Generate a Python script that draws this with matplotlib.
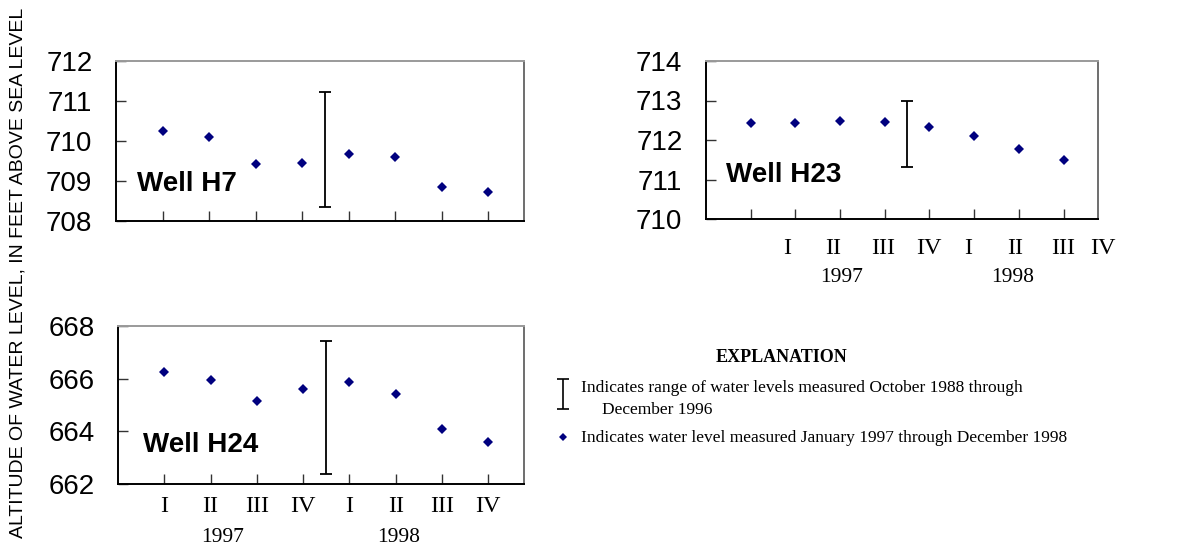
import matplotlib
matplotlib.use("Agg")
import matplotlib.pyplot as plt
from matplotlib.transforms import blended_transform_factory

# ---------------- data ----------------
quarters = [1, 2, 3, 4, 5, 6, 7, 8]
roman_labels = ["I", "II", "III", "IV", "I", "II", "III", "IV"]
year_labels = ["1997", "1998"]

h7_levels = [710.26, 710.10, 709.43, 709.45, 709.68, 709.61, 708.85, 708.73]
h7_range = [708.34, 711.22]

h23_levels = [712.42, 712.42, 712.47, 712.45, 712.32, 712.10, 711.76, 711.49]
h23_range = [711.32, 713.00]

h24_levels = [666.25, 665.95, 665.16, 665.59, 665.86, 665.41, 664.08, 663.59]
h24_range = [662.37, 667.44]

range_x = 4.5
# label positions as drawn (upper-right panel labels are shifted in the original)
h23_roman_x = [1.81, 2.84, 3.96, 4.99, 5.86, 6.91, 7.99, 8.88]
h23_year_x = [3.04, 6.87]
h24_roman_x = [1, 2, 3, 4, 5, 6, 7, 8]
h24_year_x = [2.26, 6.07]

W, H = 1184, 548
fig = plt.figure(figsize=(W / 100, H / 100), dpi=100)

SANS = "Liberation Sans"
SERIF = "Liberation Serif"
NAVY = "#00007f"


def px_axes(left, top, right, bottom):
    return fig.add_axes([left / W, 1 - bottom / H, (right - left) / W, (bottom - top) / H])


def style(ax, ylim, yticks, label, label_xy):
    ax.set_xlim(0, 8.77)
    ax.set_ylim(*ylim)
    ax.set_yticks(yticks)
    ax.set_yticklabels([str(t) for t in yticks], fontsize=20, family=SANS)
    ax.set_xticks(quarters)
    ax.set_xticklabels([])
    ax.tick_params(axis="y", direction="in", length=7, width=1.0, pad=17, color="#333333")
    ax.tick_params(axis="x", direction="in", length=7, width=1.0, color="#333333")
    for s in ["left", "bottom"]:
        ax.spines[s].set_color("black")
        ax.spines[s].set_linewidth(1.4)
    ax.spines["top"].set_color("#9a9a9a")
    ax.spines["top"].set_linewidth(1.4)
    ax.spines["right"].set_color("#555555")
    ax.spines["right"].set_linewidth(1.2)
    ax.text(label_xy[0], label_xy[1], label, fontsize=20, fontweight="bold",
            family=SANS, ha="left", va="center")


def draw(ax, levels, rng):
    ax.plot(quarters, levels, linestyle="none", marker="D", markersize=5.5,
            color=NAVY, markeredgewidth=0)
    mid = (rng[0] + rng[1]) / 2
    ax.errorbar([range_x], [mid], yerr=[[mid - rng[0]], [rng[1] - mid]],
                fmt="none", ecolor="black", elinewidth=1.3, capsize=4, capthick=1.3)


def xlabels(ax, roman_x, year_x, dy_roman, dy_year):
    tr = blended_transform_factory(ax.transData, ax.transAxes)
    h = ax.get_position().height * H
    for x, lab in zip(roman_x, roman_labels):
        ax.text(x, -dy_roman / h, lab, transform=tr, ha="center", va="center",
                fontsize=17.5, family=SERIF)
    for x, lab in zip(year_x, year_labels):
        ax.text(x, -dy_year / h, lab, transform=tr, ha="center", va="center",
                fontsize=15.5, family=SERIF)


ax1 = px_axes(116, 61, 524, 221)
style(ax1, (708, 712), [708, 709, 710, 711, 712], "Well H7", (0.45, 708.93))
draw(ax1, h7_levels, h7_range)

ax2 = px_axes(706, 61, 1098, 219)
style(ax2, (710, 714), [710, 711, 712, 713, 714], "Well H23", (0.45, 711.11))
draw(ax2, h23_levels, h23_range)
xlabels(ax2, h23_roman_x, h23_year_x, 29, 58)

ax3 = px_axes(118, 326, 524, 484)
style(ax3, (662, 668), [662, 664, 666, 668], "Well H24", (0.54, 663.47))
draw(ax3, h24_levels, h24_range)
xlabels(ax3, h24_roman_x, h24_year_x, 23, 54)

# y-axis title
fig.text(18 / W, 1 - 273 / H, "ALTITUDE OF WATER LEVEL, IN FEET ABOVE SEA LEVEL",
         rotation=90, ha="center", va="center", fontsize=14, family=SANS)

# explanation
fig.text(782 / W, 1 - 357 / H, "EXPLANATION", ha="center", va="center",
         fontsize=13, fontweight="bold", family=SERIF)
fig.text(581 / W, 1 - 388 / H, "Indicates range of water levels measured October 1988 through",
         ha="left", va="center", fontsize=12.5, family=SERIF)
fig.text(602 / W, 1 - 410 / H, "December 1996", ha="left", va="center",
         fontsize=12.5, family=SERIF)
fig.text(581 / W, 1 - 438 / H, "Indicates water level measured January 1997 through December 1998",
         ha="left", va="center", fontsize=12.5, family=SERIF)

# legend symbols
lax = fig.add_axes([0, 0, 1, 1], facecolor="none")
lax.set_xlim(0, W)
lax.set_ylim(H, 0)
lax.axis("off")
lax.errorbar([563], [394], yerr=[[15], [15]], fmt="none", ecolor="black",
             elinewidth=1.2, capsize=4, capthick=1.2)
lax.plot([563], [437], linestyle="none", marker="D", markersize=4.5,
         color=NAVY, markeredgewidth=0)

fig.savefig("out.png", dpi=100)
